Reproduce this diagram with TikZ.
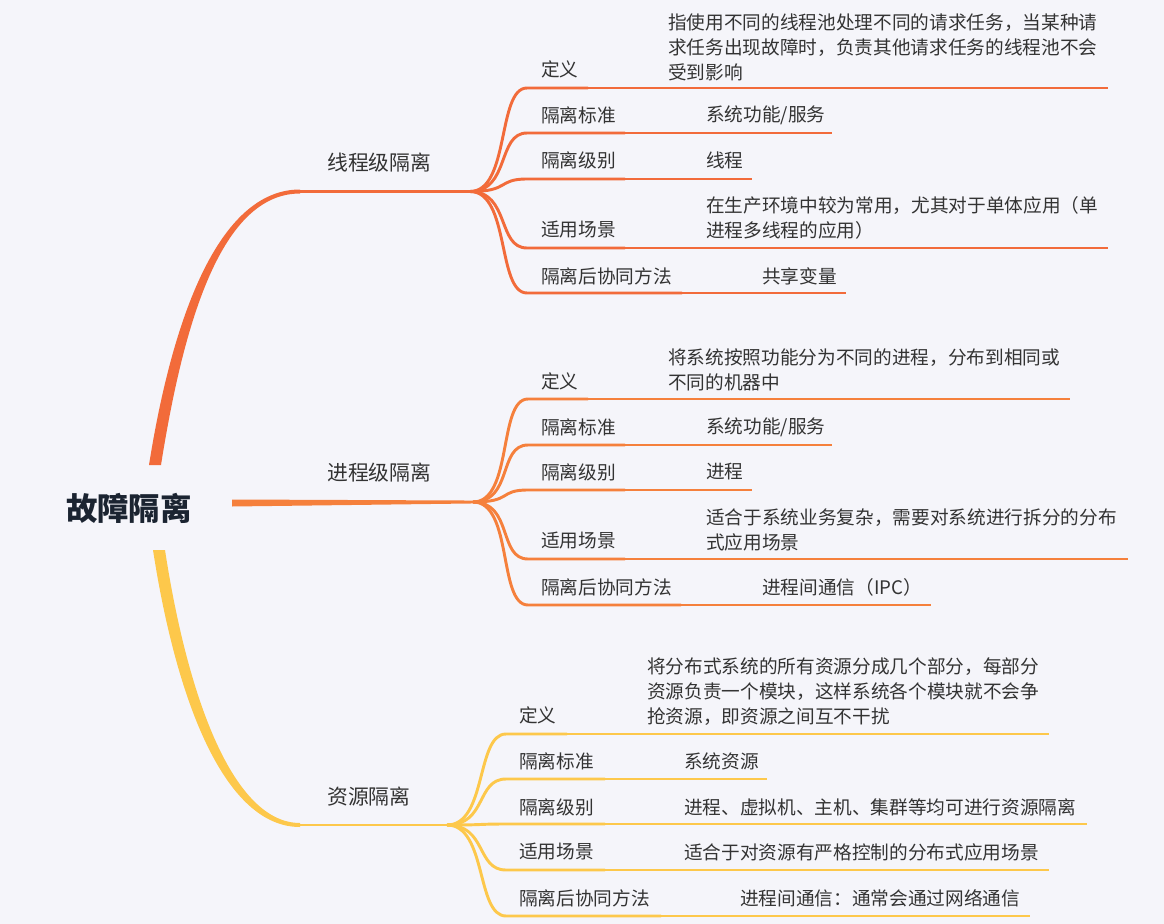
\documentclass[tikz,border=0pt]{standalone}
\usepackage{fontspec}
\setmainfont{Noto Sans CJK SC}
\usepackage{tikz}
\usetikzlibrary{positioning}
\usepackage{xcolor}

\definecolor{bgcol}{HTML}{F5F5FA}
\definecolor{threadcol}{HTML}{F26B3A}
\definecolor{proccol}{HTML}{F5803C}
\definecolor{rescol}{HTML}{FDC84B}
\definecolor{txtcol}{HTML}{333333}
\definecolor{rootcol}{HTML}{1B2431}

\tikzset{
  rootnode/.style={font=\fontsize{23.6}{28}\selectfont\bfseries, text=rootcol, inner sep=0pt},
  topicnode/.style={font=\fontsize{15.6}{19}\selectfont, text=txtcol, inner sep=0pt, anchor=west},
  subnode/.style={font=\fontsize{14}{18.75}\selectfont, text=txtcol, inner sep=0pt, anchor=west},
  detailnode/.style={subnode, align=left},
  stem/.style={line width=2.2pt},
  leaf/.style={line width=1.4pt},
}

\begin{document}
\begin{tikzpicture}[x=0.75pt, y=-0.75pt]
    % Canvas
    \fill[bgcol] (0,0) rectangle (1164,924);
    \useasboundingbox (0,0) rectangle (1164,924);

    % Root
    \node[rootnode] (root) at (129,508) {故障隔离};

    % Fan points
    \coordinate (tfan) at (470,191.5);
    \coordinate (pfan) at (473,502);
    \coordinate (rfan) at (447,825);

    % Main branches (tapered)
    \fill[threadcol] (149,465) .. controls (172,320) and (218,189.5) .. (300,189.5)
        -- (300,193.5) .. controls (222,193.5) and (184,320) .. (161,465) -- cycle;
    \draw[threadcol, stem] (300,191.5) -- (tfan);
    \fill[proccol] (232,499.5) -- ([yshift=1.1pt]pfan) -- ([yshift=-1.1pt]pfan)
        -- (232,506.5) -- cycle;
    \fill[rescol] (153,550) .. controls (177,705) and (226,827) .. (300,827)
        -- (300,823) .. controls (234,823) and (188,700) .. (165,550) -- cycle;
    \draw[rescol, stem] (300,825) -- (rfan);

    % Topics
    \node[topicnode] (thread) at (327,163) {线程级隔离};
    \node[topicnode] (proc)   at (327,473) {进程级隔离};
    \node[topicnode] (res)    at (327,797) {资源隔离};

    % Sub branches: y / label underline end / detail underline end
    \foreach \y/\m/\e in {88/588/1108,133/625/832,179/625/752,248/625/1108,293/682/846}{
        \coordinate (t-\y) at (527,\y);
        \draw[threadcol, stem] (tfan) .. controls +(40,0) and +(-30,0) .. (t-\y) -- (\m,\y);
        \draw[threadcol, leaf] (\m,\y) -- (\e,\y);
    }
    \foreach \y/\m/\e in {399/588/1070,445/625/832,490/625/752,559/625/1128,605/681/931}{
        \coordinate (p-\y) at (528,\y);
        \draw[proccol, stem] (pfan) .. controls +(40,0) and +(-30,0) .. (p-\y) -- (\m,\y);
        \draw[proccol, leaf] (\m,\y) -- (\e,\y);
    }
    \foreach \y/\m/\e in {734/567/1049,779/605/767,824/605/1087,870/605/1049,916/661/1030}{
        \coordinate (r-\y) at (506,\y);
        \draw[rescol, stem] (rfan) .. controls +(40,0) and +(-30,0) .. (r-\y) -- (\m,\y);
        \draw[rescol, leaf] (\m,\y) -- (\e,\y);
    }

    % 线程级隔离
    \node[subnode] (tdef) at (541,69) {定义};
    \node[detailnode] (tdefd) at (668,47) {指使用不同的线程池处理不同的请求任务，当某种请\\求任务出现故障时，负责其他请求任务的线程池不会\\受到影响};
    \node[subnode] (tstd) at (541,115) {隔离标准};
    \node[subnode] (tstdd) at (706,115) {系统功能/服务};
    \node[subnode] (tlvl) at (541,160) {隔离级别};
    \node[subnode] (tlvld) at (706,160) {线程};
    \node[subnode] (tuse) at (541,230) {适用场景};
    \node[detailnode] (tused) at (706,218) {在生产环境中较为常用，尤其对于单体应用（单\\进程多线程的应用）};
    \node[subnode] (tco) at (541,276) {隔离后协同方法};
    \node[subnode] (tcod) at (762,276) {共享变量};

    % 进程级隔离
    \node[subnode] (pdef) at (541,381) {定义};
    \node[detailnode] (pdefd) at (668,369.5) {将系统按照功能分为不同的进程，分布到相同或\\不同的机器中};
    \node[subnode] (pstd) at (541,427) {隔离标准};
    \node[subnode] (pstdd) at (706,427) {系统功能/服务};
    \node[subnode] (plvl) at (541,472) {隔离级别};
    \node[subnode] (plvld) at (706,472) {进程};
    \node[subnode] (puse) at (541,541) {适用场景};
    \node[detailnode] (pused) at (706,529.5) {适合于系统业务复杂，需要对系统进行拆分的分布\\式应用场景};
    \node[subnode] (pco) at (541,587) {隔离后协同方法};
    \node[subnode] (pcod) at (762,587) {进程间通信（IPC）};

    % 资源隔离
    \node[subnode] (rdef) at (519,715) {定义};
    \node[detailnode] (rdefd) at (647,691.5) {将分布式系统的所有资源分成几个部分，每部分\\资源负责一个模块，这样系统各个模块就不会争\\抢资源，即资源之间互不干扰};
    \node[subnode] (rstd) at (519,761) {隔离标准};
    \node[subnode] (rstdd) at (684,761) {系统资源};
    \node[subnode] (rlvl) at (519,807) {隔离级别};
    \node[subnode] (rlvld) at (684,807) {进程、虚拟机、主机、集群等均可进行资源隔离};
    \node[subnode] (ruse) at (519,852) {适用场景};
    \node[subnode] (rused) at (684,852) {适合于对资源有严格控制的分布式应用场景};
    \node[subnode] (rco) at (519,898) {隔离后协同方法};
    \node[subnode] (rcod) at (740,898) {进程间通信：通常会通过网络通信};
\end{tikzpicture}
\end{document}
